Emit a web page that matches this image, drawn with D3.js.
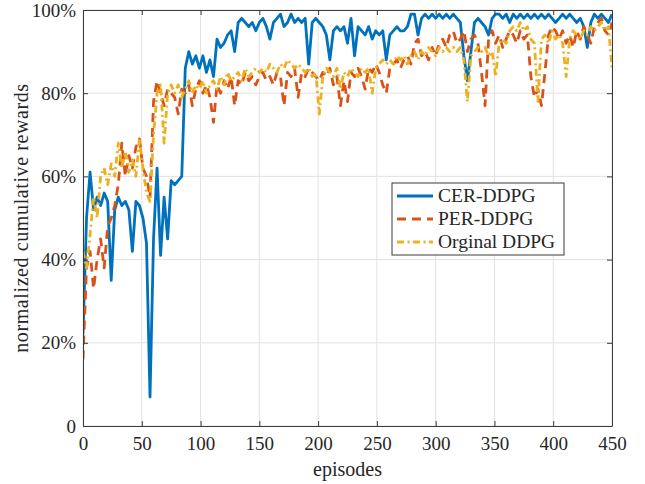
<!DOCTYPE html>
<html lang="en">
<head>
<meta charset="utf-8">
<title>normalized cumulative rewards</title>
<script src="https://d3js.org/d3.v7.min.js"></script>
<style>
    body { margin: 0; background: #fff; }
    svg { font-family: "Liberation Serif", "DejaVu Serif", serif; }
    .grid line { stroke: #e2e2e2; stroke-width: 1; }
    .axis path, .axis line { stroke: #3a3a3a; }
    .axis text { fill: #262626; font-size: 19px; }
    .series { fill: none; stroke-linejoin: round; }
</style>
</head>
<body>
<div id="chart"></div>
<script>

// episodes sampled every 3 (0 .. 450)
const episodes = d3.range(0, 451, 3);

const cerDDPG = [
  22, 50, 61, 52, 55, 53, 56, 54, 35, 52, 55, 53, 54, 52, 42, 54, 53, 50, 44, 7,
  45, 62, 41, 55, 45, 59, 58, 59, 60, 86, 90, 87, 89, 86, 89, 85, 88, 84, 93, 91,
  92, 94, 95, 90, 97, 98, 97, 96, 97, 95, 97, 98, 96, 93, 97, 98, 99, 96, 97, 99,
  97, 98, 97, 98, 87, 97, 98, 97, 96, 94, 88, 95, 96, 95, 96, 92, 98, 89, 96, 95,
  94, 96, 93, 95, 94, 95, 88, 94, 95, 96, 95, 95, 96, 99, 99, 94, 98, 99, 98, 99,
  98, 99, 98, 99, 98, 99, 98, 97, 89, 83, 90, 97, 98, 97, 96, 94, 98, 99, 99, 98,
  99, 97, 99, 98, 99, 98, 99, 98, 99, 98, 99, 98, 99, 98, 97, 98, 99, 98, 99, 98,
  97, 98, 96, 91, 97, 99, 98, 99, 98, 97, 99
];

const perDDPG = [
  16, 38, 42, 33, 40, 45, 38, 48, 50, 53, 58, 68, 60, 65, 62, 67, 69, 62, 60, 55,
  78, 83, 80, 77, 81, 80, 79, 75, 81, 80, 82, 77, 81, 83, 80, 82, 79, 73, 82, 80,
  83, 81, 84, 77, 83, 82, 85, 83, 84, 82, 84, 85, 83, 84, 82, 85, 84, 77, 85, 84,
  86, 79, 85, 84, 86, 85, 84, 83, 85, 84, 86, 82, 84, 77, 83, 78, 85, 84, 86, 84,
  81, 86, 85, 87, 85, 82, 80, 86, 87, 88, 86, 88, 89, 87, 92, 93, 89, 90, 88, 91,
  89, 92, 93, 91, 94, 95, 92, 93, 95, 90, 93, 94, 92, 85, 77, 93, 95, 92, 94, 91,
  93, 95, 94, 92, 95, 93, 94, 84, 79, 81, 77, 85, 94, 96, 95, 93, 95, 92, 94, 91,
  95, 93, 96, 94, 92, 96, 97, 98, 95, 94, 97
];

const origDDPG = [
  42, 38, 46, 55, 50, 60, 62, 58, 63, 60, 68, 62, 66, 61, 64, 60, 69, 62, 56, 54,
  70, 80, 82, 68, 80, 82, 80, 82, 79, 81, 83, 80, 82, 81, 83, 80, 82, 83, 81, 84,
  82, 85, 83, 84, 85, 83, 86, 84, 85, 86, 85, 86, 85, 87, 86, 85, 87, 86, 88, 87,
  86, 87, 86, 85, 86, 84, 85, 75, 84, 86, 85, 84, 86, 81, 85, 84, 86, 85, 84, 86,
  85, 86, 80, 86, 87, 88, 87, 88, 87, 89, 88, 89, 87, 89, 90, 88, 90, 89, 91, 90,
  89, 91, 90, 91, 90, 91, 90, 91, 88, 78, 89, 90, 91, 90, 91, 89, 90, 84, 92, 93,
  92, 95, 96, 95, 97, 95, 96, 93, 92, 78, 93, 94, 92, 95, 93, 94, 92, 84, 93, 95,
  94, 93, 95, 94, 96, 95, 96, 97, 95, 96, 86
];

const seriesNames = ["CER-DDPG", "PER-DDPG", "Orginal DDPG"];
const xTicks = [0, 50, 100, 150, 200, 250, 300, 350, 400, 450];
const yTicks = [0, 20, 40, 60, 80, 100];

const W = 645, H = 484;
const margin = {top: 10, right: 33, bottom: 58, left: 83};
const width = W - margin.left - margin.right,
      height = H - margin.top - margin.bottom;

const svg = d3.select("#chart").append("svg")
    .attr("width", W)
    .attr("height", H);

const g = svg.append("g")
    .attr("transform", "translate(" + margin.left + "," + margin.top + ")");

const x = d3.scaleLinear().domain([0, 450]).range([0, width]);
const y = d3.scaleLinear().domain([0, 100]).range([height, 0]);

// grid
g.append("g").attr("class", "grid")
  .selectAll("line").data(xTicks).join("line")
    .attr("x1", d => x(d)).attr("x2", d => x(d))
    .attr("y1", 0).attr("y2", height);
g.append("g").attr("class", "grid")
  .selectAll("line").data(yTicks).join("line")
    .attr("x1", 0).attr("x2", width)
    .attr("y1", d => y(d)).attr("y2", d => y(d));

g.append("clipPath").attr("id", "clip")
  .append("rect").attr("width", width).attr("height", height);

const styles = [
    {color: "#0072BD", dash: null, w: 2.8},
    {color: "#D95319", dash: "9,6", w: 2.8},
    {color: "#EDB120", dash: "7,3.5,2,3.5", w: 2.8}
];
const allData = [cerDDPG, perDDPG, origDDPG];

const line = d3.line()
    .x((d, i) => x(episodes[i]))
    .y(d => y(d));

const lines = g.append("g").attr("clip-path", "url(#clip)");
allData.forEach((vals, k) => {
    lines.append("path")
        .datum(vals)
        .attr("class", "series")
        .attr("d", line)
        .attr("stroke", styles[k].color)
        .attr("stroke-width", styles[k].w)
        .attr("stroke-dasharray", styles[k].dash);
});

// axes (ticks point inward, box all round)
g.append("g").attr("class", "axis")
    .attr("transform", "translate(0," + height + ")")
    .call(d3.axisBottom(x).tickValues(xTicks).tickSize(-5).tickPadding(11).tickSizeOuter(0));
g.append("g").attr("class", "axis")
    .call(d3.axisLeft(y).tickValues(yTicks).tickSize(-5).tickPadding(7).tickSizeOuter(0)
        .tickFormat(d => d === 0 ? "0" : d + "%"));
g.append("g").attr("class", "axis")
    .call(d3.axisTop(x).tickValues(xTicks).tickSize(-5).tickSizeOuter(0).tickFormat(""));
g.append("g").attr("class", "axis")
    .attr("transform", "translate(" + width + ",0)")
    .call(d3.axisRight(y).tickValues(yTicks).tickSize(-5).tickSizeOuter(0).tickFormat(""));

g.selectAll(".axis text").attr("font-family", "Liberation Serif");

// axis labels
svg.append("text")
    .attr("x", margin.left + width / 2)
    .attr("y", 476)
    .attr("text-anchor", "middle")
    .style("font-size", "20px")
    .attr("fill", "#262626")
    .text("episodes");

svg.append("text")
    .attr("transform", "translate(28," + (margin.top + height / 2) + ") rotate(-90)")
    .attr("text-anchor", "middle")
    .style("font-size", "20px")
    .style("letter-spacing", "0.6px")
    .attr("fill", "#262626")
    .text("normalized cumulative rewards");

// legend
const legend = svg.append("g").attr("transform", "translate(392,183)");
legend.append("rect")
    .attr("width", 172).attr("height", 72)
    .attr("fill", "#fff").attr("stroke", "#3a3a3a").attr("stroke-width", 1);
seriesNames.forEach((name, k) => {
    const yy = 13 + k * 23;
    legend.append("line")
        .attr("x1", 5).attr("x2", 41)
        .attr("y1", yy).attr("y2", yy)
        .attr("stroke", styles[k].color)
        .attr("stroke-width", styles[k].w)
        .attr("stroke-dasharray", styles[k].dash);
    legend.append("text")
        .attr("x", 46).attr("y", yy + 6)
        .style("font-size", "19.5px")
        .attr("fill", "#262626")
        .text(name);
});

</script>
</body>
</html>
